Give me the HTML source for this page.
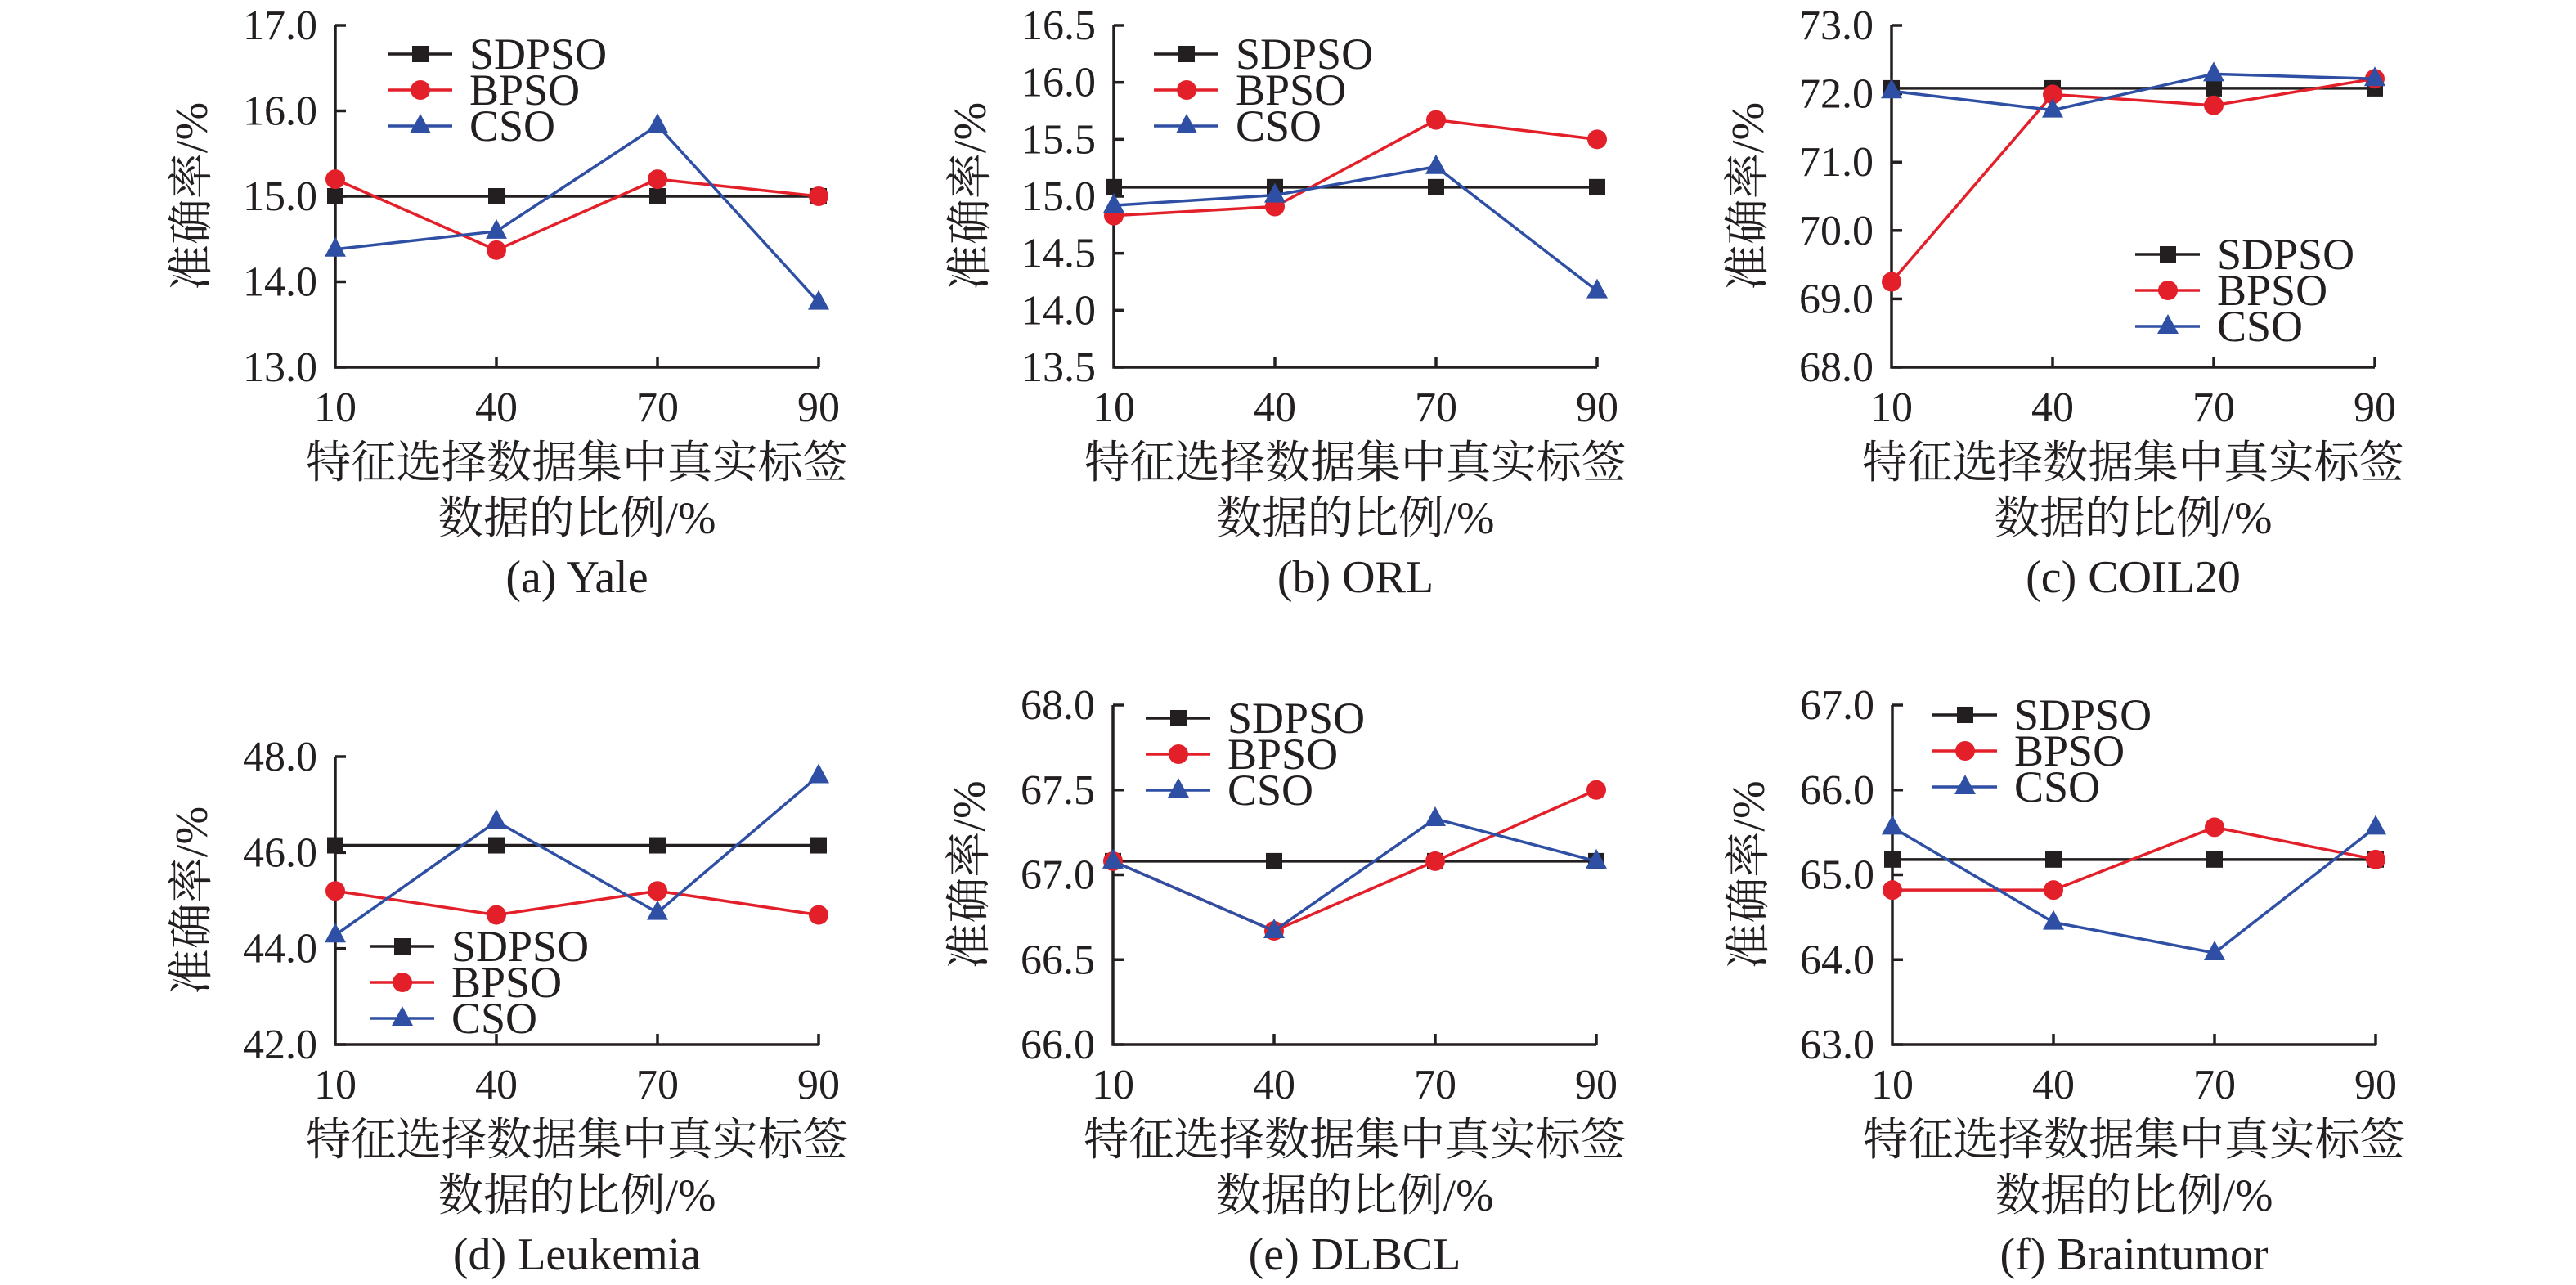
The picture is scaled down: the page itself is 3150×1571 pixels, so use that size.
<!DOCTYPE html>
<html><head><meta charset="utf-8">
<style>
html,body{margin:0;padding:0;background:#fff;}
svg{display:block;}
text{font-family:"Liberation Serif","Noto Serif CJK SC",serif;fill:#231f20;}
</style></head>
<body>
<svg id="fig" width="3150" height="1571" viewBox="0 0 3150 1571" xmlns="http://www.w3.org/2000/svg" font-family="Liberation Serif, Noto Serif CJK SC, serif"></svg>
<script>
// Shared categories
const categories = ["10","40","70","90"];
const seriesNames = ["SDPSO","BPSO","CSO"];

// (a) Yale
const yaleSDPSO = [15.0,15.0,15.0,15.0];
const yaleBPSO  = [15.2,14.37,15.2,15.0];
const yaleCSO   = [14.38,14.59,15.83,13.76];
const yaleTicks = [13.0,14.0,15.0,16.0,17.0];
// (b) ORL
const orlSDPSO = [15.08,15.08,15.08,15.08];
const orlBPSO  = [14.83,14.91,15.67,15.5];
const orlCSO   = [14.92,15.01,15.26,14.17];
const orlTicks = [13.5,14.0,14.5,15.0,15.5,16.0,16.5];
// (c) COIL20
const coilSDPSO = [72.08,72.08,72.08,72.08];
const coilBPSO  = [69.25,71.99,71.83,72.22];
const coilCSO   = [72.04,71.76,72.29,72.22];
const coilTicks = [68.0,69.0,70.0,71.0,72.0,73.0];
// (d) Leukemia
const leukSDPSO = [46.15,46.15,46.15,46.15];
const leukBPSO  = [45.2,44.7,45.2,44.7];
const leukCSO   = [44.28,46.65,44.75,47.6];
const leukTicks = [42.0,44.0,46.0,48.0];
// (e) DLBCL
const dlbSDPSO = [67.08,67.08,67.08,67.08];
const dlbBPSO  = [67.08,66.67,67.08,67.5];
const dlbCSO   = [67.08,66.67,67.33,67.08];
const dlbTicks = [66.0,66.5,67.0,67.5,68.0];
// (f) Braintumor
const brainSDPSO = [65.18,65.18,65.18,65.18];
const brainBPSO  = [64.82,64.82,65.56,65.18];
const brainCSO   = [65.56,64.44,64.08,65.56];
const brainTicks = [63.0,64.0,65.0,66.0,67.0];

const captions = ["(a) Yale","(b) ORL","(c) COIL20","(d) Leukemia","(e) DLBCL","(f) Braintumor"];

const NS = "http://www.w3.org/2000/svg";
const svg = document.getElementById('fig');
const COLORS = ["#231f20","#e3202a","#2e4fa3"];
const FONT = '"Liberation Serif","Noto Serif CJK SC",serif';

function mk(tag, attrs, parent){
  const e = document.createElementNS(NS, tag);
  for (const k in attrs) e.setAttribute(k, attrs[k]);
  if (tag === 'text') e.style.fontFamily = FONT;
  (parent||svg).appendChild(e);
  return e;
}

function panel(cfg){
  const g = mk('g',{});
  
  
  const x0 = cfg.x0, x1 = cfg.x0 + 591, yTop = cfg.yTop, yBot = cfg.yBot;
  const tmin = cfg.ticks[0], tmax = cfg.ticks[cfg.ticks.length-1];
  const sx = i => x0 + (x1 - x0) * i / (categories.length - 1);
  const sy = v => yBot - (v - tmin) / (tmax - tmin) * (yBot - yTop);

  const ax = mk('path',{d:`M${x0} ${yTop}V${yBot}H${x1}`, stroke:'#231f20','stroke-width':3.5, fill:'none'}, g);
  
  
  cfg.ticks.forEach(t=>{
    const y = sy(t);
    mk('line',{x1:x0,x2:x0+13,y1:y,y2:y,stroke:'#231f20','stroke-width':3.5},g);
    const tl = mk('text',{x:x0-22,y:y+17,'font-size':52,'text-anchor':'end'},g);
    tl.textContent = t.toFixed(1);
    
    
  });
  categories.forEach((c,i)=>{
    const x = sx(i);
    if (i>0) mk('line',{x1:x,x2:x,y1:yBot,y2:yBot-13,stroke:'#231f20','stroke-width':3.5},g);
    const tl = mk('text',{x:x,y:yBot+66,'font-size':52,'text-anchor':'middle'},g);
    tl.textContent = c;
    
    
  });
  cfg.series.forEach((vals,si)=>{
    const sg = mk('g',{},g);
    
    
    const pts = vals.map((v,i)=>sx(i)+','+sy(v)).join(' ');
    mk('polyline',{points:pts,fill:'none',stroke:COLORS[si],'stroke-width':3.5},sg);
    vals.forEach((v,i)=>{
      const m = marker(si, sx(i), sy(v), sg);
      
      
    });
  });
  const lg = mk('g',{},g);
  
  
  seriesNames.forEach((n,si)=>{
    const y = cfg.legY + si*44;
    mk('line',{x1:cfg.legX,x2:cfg.legX+79,y1:y,y2:y,stroke:COLORS[si],'stroke-width':3.5},lg);
    marker(si, cfg.legX+40, y, lg);
    const t = mk('text',{x:cfg.legX+100,y:y+18,'font-size':54},lg);
    t.textContent = n;
    
    
  });
  const cy = (yTop+yBot)/2, cx = x0-176;
  const yl = mk('text',{x:cx,y:cy,'font-size':56,'text-anchor':'middle',transform:`rotate(-90 ${cx} ${cy}) translate(0 19)`},g);
  yl.textContent = '准确率/%';
  
  
  const mx = (x0+x1)/2;
  const xl1 = mk('text',{x:mx,y:yBot+135,'font-size':55,'text-anchor':'middle',textLength:663,lengthAdjust:'spacingAndGlyphs'},g);
  xl1.textContent = '特征选择数据集中真实标签';
  
  
  const xl2 = mk('text',{x:mx,y:yBot+203,'font-size':55,'text-anchor':'middle',textLength:340,lengthAdjust:'spacingAndGlyphs'},g);
  xl2.textContent = '数据的比例/%';
  
  
  const cap = mk('text',{x:mx,y:yBot+275,'font-size':56,'text-anchor':'middle'},g);
  cap.textContent = cfg.caption;
  
  
}

function marker(si,x,y,parent){
  if (si===0) return mk('rect',{x:x-10,y:y-10,width:20,height:20,fill:COLORS[0]},parent);
  if (si===1) return mk('circle',{cx:x,cy:y,r:12,fill:COLORS[1]},parent);
  return mk('path',{d:`M${x} ${y-15}L${x+13} ${y+9}L${x-13} ${y+9}Z`,fill:COLORS[2]},parent);
}

panel({key:'yale',x0:410,yTop:31,yBot:449,ticks:yaleTicks,series:[yaleSDPSO,yaleBPSO,yaleCSO],legX:474,legY:66,caption:captions[0]});
panel({key:'orl',x0:1362,yTop:31,yBot:449,ticks:orlTicks,series:[orlSDPSO,orlBPSO,orlCSO],legX:1411,legY:66,caption:captions[1]});
panel({key:'coil20',x0:2313,yTop:31,yBot:449,ticks:coilTicks,series:[coilSDPSO,coilBPSO,coilCSO],legX:2611,legY:311,caption:captions[2]});
panel({key:'leukemia',x0:410,yTop:925,yBot:1277,ticks:leukTicks,series:[leukSDPSO,leukBPSO,leukCSO],legX:452,legY:1157,caption:captions[3]});
panel({key:'dlbcl',x0:1361,yTop:862,yBot:1277,ticks:dlbTicks,series:[dlbSDPSO,dlbBPSO,dlbCSO],legX:1401,legY:878,caption:captions[4]});
panel({key:'braintumor',x0:2314,yTop:862,yBot:1277,ticks:brainTicks,series:[brainSDPSO,brainBPSO,brainCSO],legX:2363,legY:874,caption:captions[5]});
</script>
</body></html>
